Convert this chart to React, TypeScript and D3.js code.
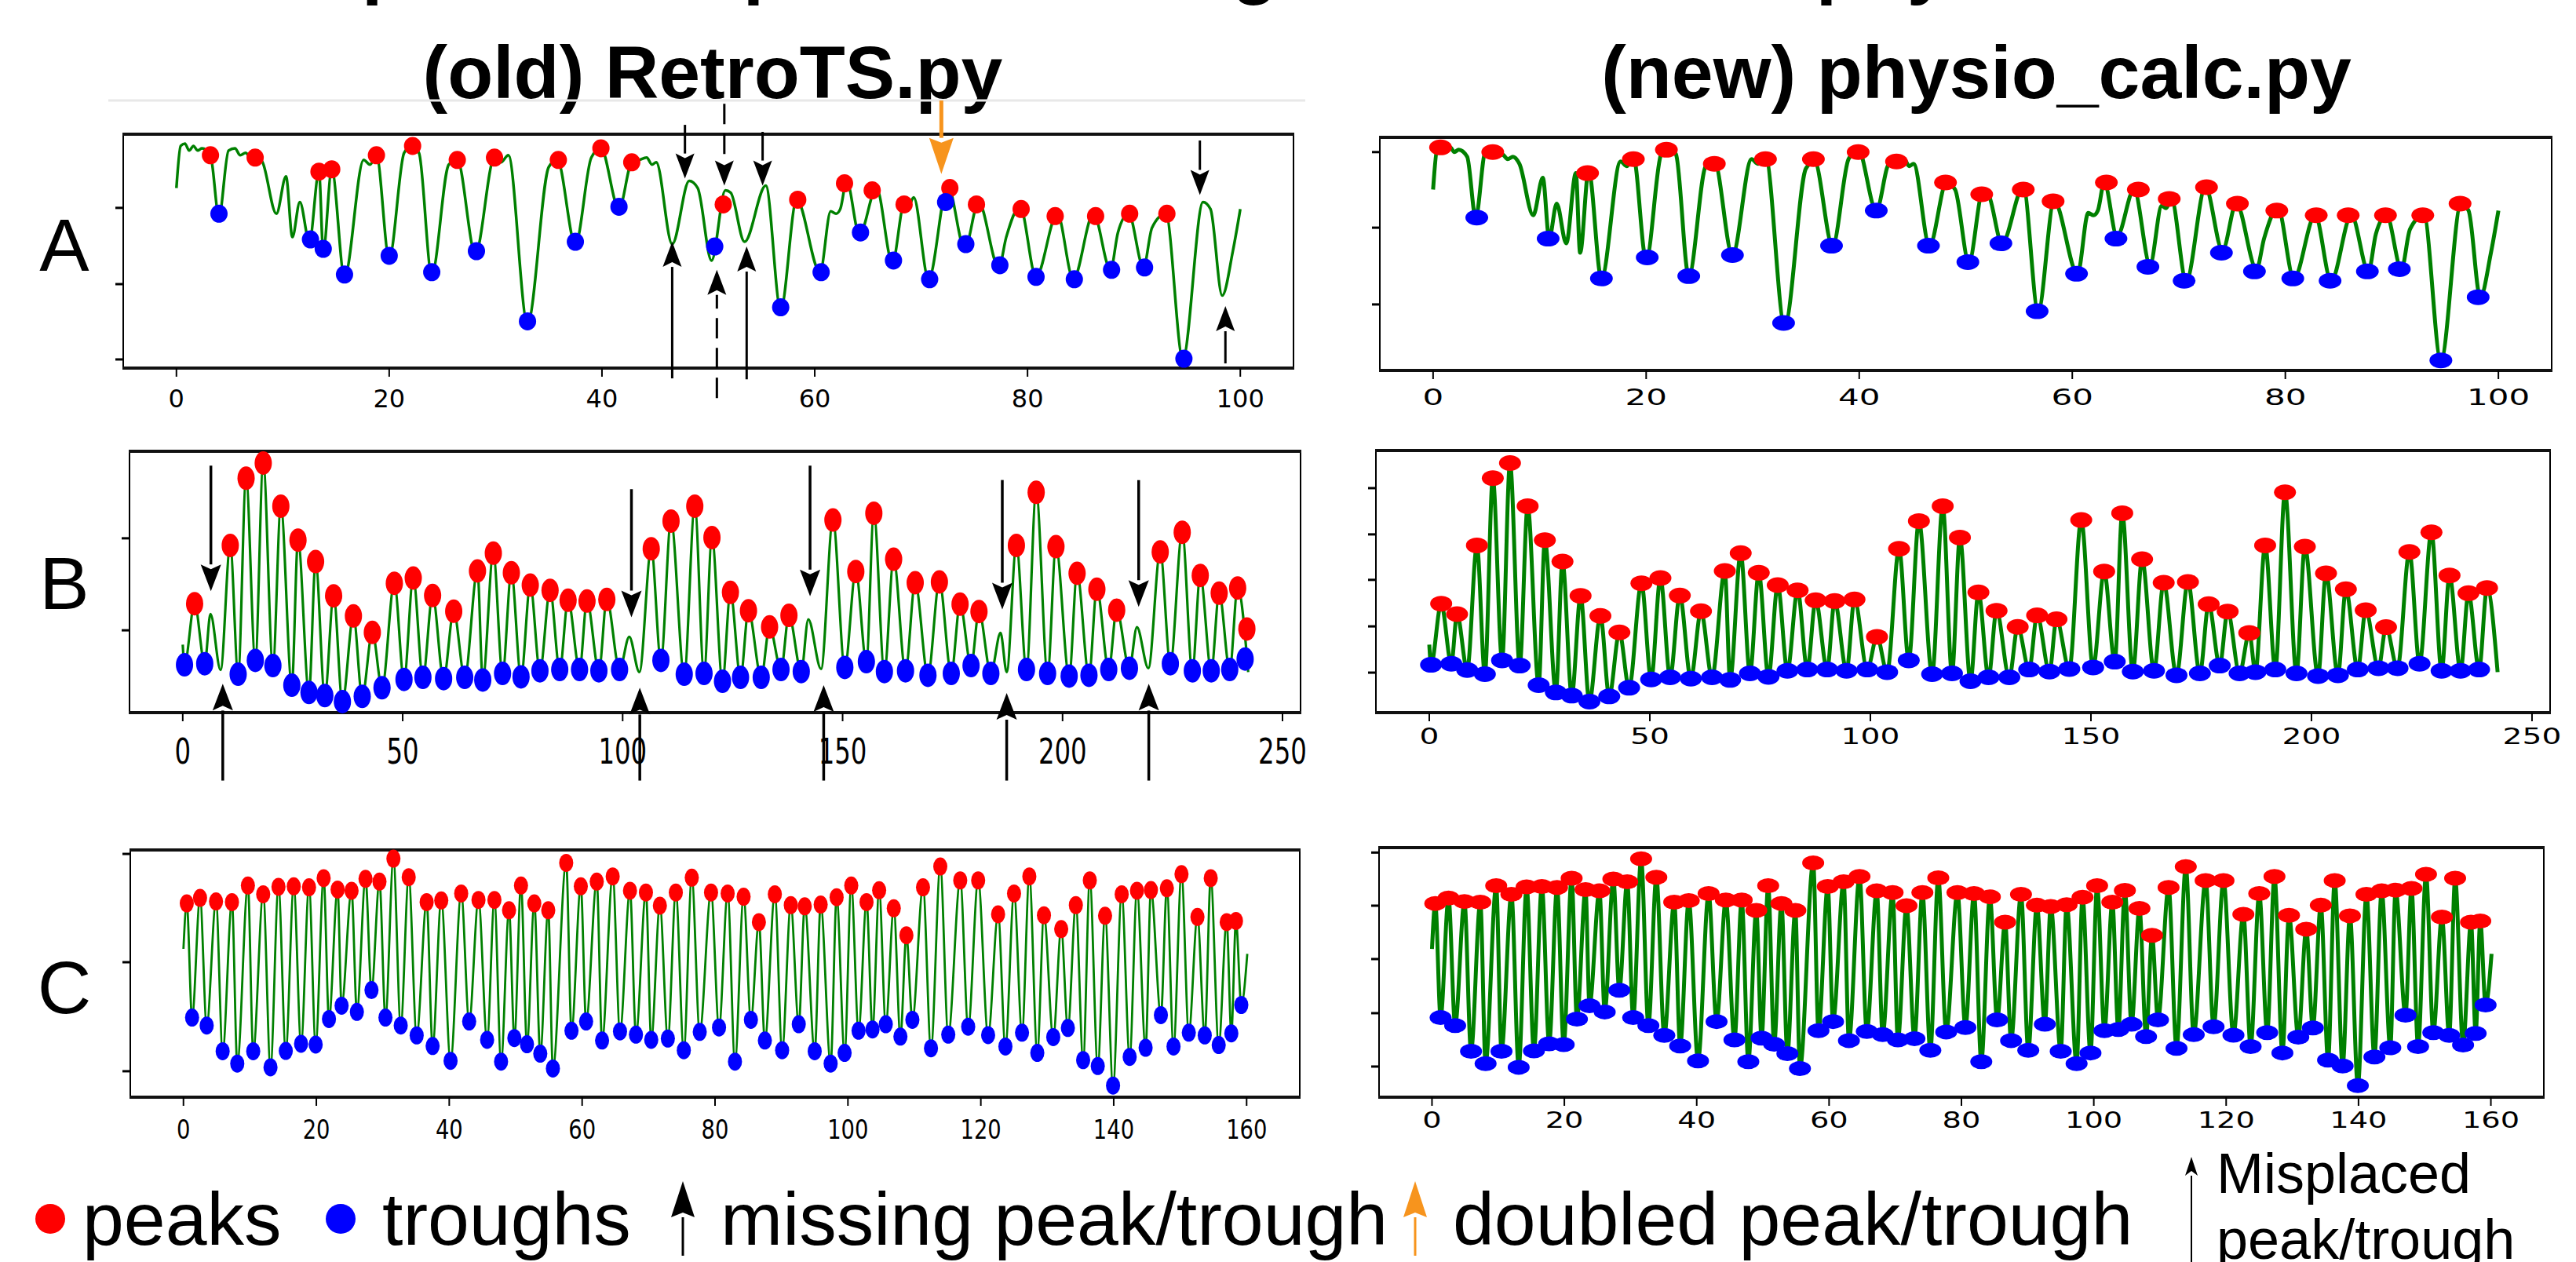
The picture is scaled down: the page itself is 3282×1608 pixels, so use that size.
import * as d3 from "d3";

// ---------- row A (old vs new, 0..100 s) ----------
const signalA: [number, number][] = [
  [0, 77], [0.4, 95], [0.8, 96], [1.2, 93], [1.6, 95], [2.0, 93], [2.4, 94], [3.2, 91], [4.0, 65],
  [4.9, 93], [5.5, 94], [6.0, 91], [6.5, 92], [7.0, 90], [7.5, 91], [8.1, 88], [9.4, 66], [10.3, 82],
  [10.9, 56], [11.6, 71], [12.5, 54], [13.4, 84], [13.8, 50], [14.6, 85], [15.8, 39], [17.6, 89],
  [18.2, 87], [18.8, 91], [20.0, 47], [21.4, 92], [22.1, 95], [22.8, 92], [24.0, 40], [25.6, 87],
  [26.4, 89], [28.1, 49], [29.9, 90], [30.5, 88], [31.2, 91], [33.0, 19], [35.0, 86], [35.8, 89],
  [37.5, 53], [39.0, 90], [39.9, 94], [41.6, 68], [42.8, 88], [43.5, 89], [44.2, 90], [44.7, 87],
  [45.1, 88], [46.6, 53], [48.2, 80], [49.0, 77], [50.3, 46], [51.6, 76], [52.1, 75], [53.4, 54],
  [55.4, 78], [56.8, 25], [58.3, 72], [60.5, 41], [61.5, 67], [62.0, 66], [62.4, 68], [63.0, 80],
  [64.2, 57], [65.8, 77], [67.3, 45], [68.4, 70], [68.8, 69], [69.3, 73], [70.7, 38], [72.5, 78],
  [74.1, 51], [75.4, 71], [77.3, 43], [78.0, 56], [79.3, 69], [80.8, 39], [82.8, 66], [84.3, 38],
  [86.2, 66], [87.8, 42], [88.5, 58], [89.5, 66], [90.9, 43], [91.7, 60], [93.0, 66], [94.6, 4],
  [96.5, 71], [97.2, 68], [98.3, 31], [99.3, 50], [100, 68],
];
const peaksOldA: [number, number][] = [
  [3.2, 91], [7.4, 90], [13.4, 84], [14.6, 85], [18.8, 91], [22.2, 95], [26.4, 89], [29.9, 90],
  [35.9, 89], [39.9, 94], [42.8, 88], [51.4, 70], [58.4, 72], [62.8, 79], [65.4, 76], [68.4, 70],
  [72.7, 77], [75.2, 70], [79.4, 68], [82.6, 65], [86.4, 65], [89.6, 66], [93.1, 66],
];
const troughsOldA: [number, number][] = [
  [4.0, 66], [12.6, 55], [13.8, 51], [15.8, 40], [20.0, 48], [24.0, 41], [28.2, 50], [33.0, 20],
  [37.5, 54], [41.6, 69], [50.6, 52], [56.8, 26], [60.6, 41], [64.3, 58], [67.4, 46], [70.8, 38],
  [72.3, 71], [74.2, 53], [77.4, 44], [80.8, 39], [84.4, 38], [87.9, 42], [91.0, 43], [94.7, 4],
];
const peaksNewA: [number, number][] = [
  [0.7, 95], [5.6, 93], [14.5, 84], [18.8, 90], [21.9, 94], [26.4, 88], [31.2, 90], [35.7, 90],
  [39.9, 93], [43.5, 89], [48.1, 80], [51.5, 75], [55.4, 77], [58.2, 72], [63.2, 80], [66.2, 77],
  [69.1, 73], [72.6, 78], [75.5, 71], [79.2, 68], [82.9, 66], [85.9, 66], [89.4, 66], [92.9, 66],
  [96.4, 71],
];
const troughsNewA: [number, number][] = [
  [4.1, 65], [10.8, 56], [15.8, 39], [20.1, 48], [24.0, 40], [28.1, 49], [32.9, 20], [37.4, 53],
  [41.6, 68], [46.5, 53], [50.2, 46], [53.3, 54], [56.7, 25], [60.4, 41], [64.1, 56], [67.1, 44],
  [70.5, 38], [74.0, 50], [77.1, 42], [80.7, 39], [84.2, 38], [87.7, 42], [90.7, 43], [94.6, 4],
  [98.1, 31],
];
// annotation arrows: [t, tip value, tail value]
const missArrowsOldA: [number, number, number][] = [
  [47.8, 81, 104], [55.1, 78, 101], [96.2, 74, 97.3],
  [46.6, 54, -4.4], [53.6, 52, -4.8], [98.6, 26.5, 2],
];
const misplacedArrowsOldA: [number, number, number][] = [[51.5, 78, 113], [50.8, 42, -12.8]];
const doubledArrowsOldA: [number, number, number][] = [[71.9, 83, 114.4]];

// ---------- row B (0..242 s) ----------
const peaksB: [number, number][] = [
  [2.7, 41.7], [6.3, 37.7], [10.8, 64], [14.4, 89.7], [18.3, 95.5], [22.3, 79], [26.2, 66],
  [30.2, 57.8], [34.3, 44.7], [38.8, 37], [43.1, 30.7], [48.1, 49.5], [52.4, 51.5], [56.8, 44.8],
  [61.6, 38.8], [67, 54.2], [70.6, 61], [74.7, 53.5], [79, 48.8], [83.5, 46.8], [87.6, 43],
  [91.9, 42.7], [96.4, 43.3], [101.5, 29], [106.5, 62.7], [111, 73.3], [116.4, 79], [120.3, 67],
  [124.5, 46], [128.6, 39], [133.4, 32.8], [137.8, 37.2], [142.2, 35.7], [147.8, 73.7], [153, 54],
  [157.1, 76.3], [161.6, 58.7], [166.5, 49.7], [172, 50], [176.7, 41.5], [181, 38.7], [185.9, 30.5],
  [189.5, 64], [194, 84.3], [198.5, 63.5], [203.3, 53.3], [207.8, 47.2], [212.3, 39.2],
  [216.9, 32.7], [222.2, 61.5], [227.2, 69], [231.3, 52.5], [235.6, 45.7], [239.8, 47.7],
];
const troughsB: [number, number][] = [
  [0.4, 18.3], [5, 18.7], [8.6, 16.3], [12.6, 14.7], [16.5, 20], [20.5, 18], [24.8, 10.5],
  [28.7, 7.7], [32.3, 6.5], [36.3, 4.2], [40.8, 6.2], [45.3, 9.5], [50.3, 12.7], [54.6, 13.5],
  [59.3, 13], [64.1, 13.5], [68.2, 12.5], [72.7, 15], [76.9, 13.7], [81.2, 16], [85.7, 16.5],
  [90.2, 16.5], [94.6, 16], [99.3, 16.5], [103.8, 15.5], [108.7, 20], [114, 14.7], [118.5, 15],
  [122.7, 12], [126.8, 13.5], [131.5, 13.5], [136, 16.5], [140.6, 15.7], [145.1, 16.7],
  [150.5, 17.3], [155.4, 19.5], [159.5, 15.7], [164.3, 16], [169.4, 14.3], [174.7, 15], [179.2, 18],
  [183.7, 15], [187.3, 15.5], [191.8, 16.5], [196.6, 15], [201.5, 14], [206, 14.3], [210.5, 16.5],
  [215.2, 17], [219.5, 17], [224.5, 18.7], [229.5, 16], [233.8, 16], [238, 16.5],
];
const signalEndsB: [number, number][] = [[0, 26], [242.2, 15.5]];
const missedOldB = [6.3, 101.5, 142.2, 185.9, 216.9, 8.6, 103.8, 145.1, 187.3, 219.5];
const extraPeaksOldB: [number, number][] = [[241.9, 32]];
const extraTroughsOldB: [number, number][] = [[241.5, 20.5]];
const missArrowsOldB: [number, number, number][] = [
  [6.4, 46.5, 94.5], [102, 36.5, 85.5], [142.6, 44.5, 94.5], [186.3, 39.5, 89], [217.3, 40.5, 89],
  [9.1, 11, -26], [103.9, 9.5, -26], [145.7, 10.5, -26], [187.3, 7.5, -26], [219.6, 11, -26],
];

// ---------- row C (0..160 s) ----------
const peaksC: [number, number][] = [
  [0.5, 78.4], [2.5, 80.6], [4.9, 79.2], [7.3, 78.9], [9.7, 85.6], [12, 82.1], [14.3, 85.1],
  [16.6, 85.3], [18.9, 84.9], [21.1, 88.6], [23.2, 84], [25.3, 83.5], [27.4, 88.3], [29.5, 87.2],
  [31.6, 96.5], [33.9, 89], [36.6, 78.9], [38.8, 79.6], [41.8, 82.4], [44.4, 79.8], [46.8, 79.8],
  [49, 75.6], [50.8, 85.6], [52.8, 78.4], [54.9, 75.6], [57.6, 94.8], [59.8, 85.3], [62.2, 87.2],
  [64.6, 89.3], [67.2, 83.5], [69.6, 82.8], [71.7, 77.5], [74.1, 82.8], [76.5, 88.8], [79.4, 82.8],
  [81.9, 82.4], [84.3, 81.1], [86.6, 70.8], [89, 82.1], [91.4, 77.7], [93.5, 77.2], [95.9, 77.9],
  [98.3, 80.9], [100.5, 85.6], [102.8, 78.9], [104.7, 83.7], [106.9, 76.4], [108.8, 65.5],
  [111.3, 84.9], [113.9, 93.3], [116.9, 87.7], [119.6, 87.7], [122.6, 74], [125, 82.4],
  [127.3, 89.3], [129.5, 73.6], [132.1, 68], [134.3, 77.7], [136.4, 87.7], [138.7, 73.4],
  [141.2, 82.1], [143.5, 83.5], [145.6, 83.8], [148, 84.5], [150.2, 90.2], [152.6, 72.9],
  [154.6, 88.6], [157, 70.8], [158.4, 71.3],
];
const troughsC: [number, number][] = [
  [1.3, 32.2], [3.5, 29], [5.9, 18.6], [8.1, 13.6], [10.5, 18.6], [13.1, 12.1], [15.4, 18.7],
  [17.7, 21.6], [19.9, 21.3], [21.9, 31.6], [23.8, 37], [26.1, 34.5], [28.3, 43.3], [30.4, 32.2],
  [32.7, 29], [35.1, 25], [37.5, 20.7], [40.2, 14.7], [43, 30.6], [45.7, 23.2], [47.8, 14.4],
  [49.8, 23.9], [51.7, 21.4], [53.7, 17.6], [55.6, 11.6], [58.4, 26.9], [60.6, 30.6], [63, 22.9],
  [65.7, 26.6], [68.1, 25.3], [70.4, 23.2], [72.9, 23.7], [75.3, 19], [77.7, 26.4], [80.6, 28.2],
  [83, 14.4], [85.4, 31.3], [87.5, 22.9], [90.1, 19], [92.6, 29.5], [95, 18.6], [97.4, 13.6],
  [99.5, 17.9], [101.6, 26.9], [103.7, 27.4], [105.7, 29.5], [107.9, 24.5], [109.7, 31.3],
  [112.5, 19.8], [115.1, 25.3], [118.1, 28.5], [121.1, 25.1], [123.7, 20.5], [126.2, 26.1],
  [128.5, 17.9], [130.9, 24.3], [133.1, 28], [135.4, 15], [137.6, 12.6], [139.9, 4.7],
  [142.4, 16.3], [144.8, 20], [147.1, 33.2], [149, 20.5], [151.3, 26.1], [153.7, 25], [155.8, 21.1],
  [157.7, 25.8], [159.2, 37.3],
];
const signalEndsC: [number, number][] = [[0, 60], [160.1, 58]];

// ---------- ticks ----------
const xTicksA = [0, 20, 40, 60, 80, 100];
const xTicksB = [0, 50, 100, 150, 200, 250];
const xTicksC = [0, 20, 40, 60, 80, 100, 120, 140, 160];
const yTicksOldA = [3.7, 35.9, 68.5];
const yTicksNewA = [27.9, 60.7, 93.0];
const yTicksOldB = [31.5, 66.7];
const yTicksNewB = [15.3, 33.0, 50.8, 68.2, 85.9];
const yTicksOldC = [10.5, 54.6, 98.4];
const yTicksNewC = [12.4, 34.0, 55.9, 77.5, 99.0];

const byT = (a: [number, number], b: [number, number]) => a[0] - b[0];
const signalB = [...signalEndsB, ...peaksB, ...troughsB].sort(byT);
const signalC = [...signalEndsC, ...peaksC, ...troughsC].sort(byT);
const notMissed = (p: [number, number]) => !missedOldB.includes(p[0]);

type Arrow = { list: [number, number, number][]; color: string; w: number; hw: number; hl: number; dash?: string };

type PanelCfg = {
  box: [number, number, number, number]; // left, right, top, bottom
  xDomain: [number, number];
  yDomain: [number, number];
  xTicks: number[];
  yTicks: number[];
  signal: [number, number][];
  peaks: [number, number][];
  troughs: [number, number][];
  rx: number;
  ry: number;
  lw: number;
  font: number;
  sx: number;
  base: number;
  arrows?: Arrow[];
};

const BLACK_A = { color: "#000", w: 3, hw: 24, hl: 32 };
const ORANGE = "#f7941d";

const panels: PanelCfg[] = [
  {
    box: [157, 1648, 171, 469], xDomain: [-5, 105], yDomain: [0, 100], xTicks: xTicksA, yTicks: yTicksOldA,
    signal: signalA, peaks: peaksOldA, troughs: troughsOldA, rx: 11, ry: 11.5, lw: 3.5,
    font: 32, sx: 1, base: 519,
    arrows: [
      { list: missArrowsOldA, ...BLACK_A },
      { list: misplacedArrowsOldA, ...BLACK_A, dash: "26 12" },
      { list: doubledArrowsOldA, color: ORANGE, w: 5, hw: 31, hl: 46 },
    ],
  },
  {
    box: [1758, 3251, 175, 472], xDomain: [-5, 105], yDomain: [-0.3, 99.3], xTicks: xTicksA, yTicks: yTicksNewA,
    signal: signalA, peaks: peaksNewA, troughs: troughsNewA, rx: 14.5, ry: 10, lw: 5,
    font: 29, sx: 1.45, base: 516,
  },
  {
    box: [165, 1657, 575, 908], xDomain: [-12.1, 254.1], yDomain: [0, 100], xTicks: xTicksB, yTicks: yTicksOldB,
    signal: signalB, peaks: [...peaksB.filter(notMissed), ...extraPeaksOldB],
    troughs: [...troughsB.filter(notMissed), ...extraTroughsOldB], rx: 11, ry: 15, lw: 3.2,
    font: 45, sx: 0.72, base: 973,
    arrows: [{ list: missArrowsOldB, color: "#000", w: 3.5, hw: 26, hl: 34 }],
  },
  {
    box: [1753, 3249, 574, 908], xDomain: [-12.1, 254.1], yDomain: [0, 100.3], xTicks: xTicksB, yTicks: yTicksNewB,
    signal: signalB, peaks: peaksB, troughs: troughsB, rx: 14, ry: 10, lw: 5,
    font: 28, sx: 1.4, base: 948,
  },
  {
    box: [166, 1656, 1083, 1398], xDomain: [-8, 168], yDomain: [0, 100], xTicks: xTicksC, yTicks: yTicksOldC,
    signal: signalC, peaks: peaksC, troughs: troughsC, rx: 9, ry: 11.5, lw: 2.8,
    font: 33, sx: 0.83, base: 1451,
  },
  {
    box: [1757, 3241, 1080, 1398], xDomain: [-8, 168], yDomain: [0, 101], xTicks: xTicksC, yTicks: yTicksNewC,
    signal: signalC, peaks: peaksC, troughs: troughsC, rx: 14, ry: 9.5, lw: 5,
    font: 28, sx: 1.37, base: 1437,
  },
];

const SANS = "'Liberation Sans', Arial, sans-serif";
const TICKFONT = "'DejaVu Sans', sans-serif";

function ArrowMark({ x, yTip, yTail, color, w, hw, hl, dash }: any) {
  const dir = yTail > yTip ? 1 : -1;
  const base = yTip + dir * hl;
  return (
    <g>
      <line x1={x} y1={yTail} x2={x} y2={base} stroke={color} strokeWidth={w} strokeDasharray={dash} />
      <path d={`M${x},${yTip} L${x - hw / 2},${base} L${x},${base - dir * 6} L${x + hw / 2},${base} Z`} fill={color} />
    </g>
  );
}

function Panel({ cfg }: { cfg: PanelCfg }) {
  const [left, right, top, bottom] = cfg.box;
  const x = d3.scaleLinear().domain(cfg.xDomain).range([left, right]);
  const y = d3.scaleLinear().domain(cfg.yDomain).range([bottom, top]);
  const line = d3
    .line<[number, number]>()
    .x((d) => x(d[0]))
    .y((d) => y(d[1]))
    .curve(d3.curveMonotoneX);

  return (
    <g>
      <rect x={left} y={top} width={right - left} height={bottom - top} fill="#fff" stroke="#000" strokeWidth={2} />
      <line x1={left - 1} x2={right + 1} y1={top} y2={top} stroke="#111" strokeWidth={4} />
      <line x1={left - 1} x2={right + 1} y1={bottom} y2={bottom} stroke="#111" strokeWidth={4} />
      {cfg.yTicks.map((v) => (
        <line key={"y" + v} x1={left - 10} x2={left} y1={y(v)} y2={y(v)} stroke="#000" strokeWidth={3} />
      ))}
      {cfg.xTicks.map((t) => (
        <g key={"x" + t}>
          <line x1={x(t)} x2={x(t)} y1={bottom} y2={bottom + 11} stroke="#000" strokeWidth={2} />
          <text
            transform={`translate(${x(t)},${cfg.base}) scale(${cfg.sx},1)`}
            textAnchor="middle"
            fontFamily={TICKFONT}
            fontSize={cfg.font}
            fill="#000"
          >
            {t}
          </text>
        </g>
      ))}
      <path d={line(cfg.signal) || ""} fill="none" stroke="#008000" strokeWidth={cfg.lw} strokeLinejoin="round" />
      {cfg.peaks.map((p, i) => (
        <ellipse key={"p" + i} cx={x(p[0])} cy={y(p[1])} rx={cfg.rx} ry={cfg.ry} fill="#ff0000" />
      ))}
      {cfg.troughs.map((p, i) => (
        <ellipse key={"t" + i} cx={x(p[0])} cy={y(p[1])} rx={cfg.rx} ry={cfg.ry} fill="#0000ff" />
      ))}
      {(cfg.arrows || []).map((a, j) =>
        a.list.map((d, i) => (
          <ArrowMark key={`a${j}-${i}`} x={x(d[0])} yTip={y(d[1])} yTail={y(d[2])} color={a.color} w={a.w} hw={a.hw} hl={a.hl} dash={a.dash} />
        ))
      )}
    </g>
  );
}

export default function App() {
  return (
    <svg
      width={3282}
      height={1608}
      style={{ position: "absolute", left: 0, top: 0, background: "#fff" }}
    >
      <rect width={3282} height={1608} fill="#fff" />
      <text x={250} y={-13} fontFamily={SANS} fontWeight="bold" fontSize={95}>
        Comparison of peak and trough detection for physio data
      </text>
      <text x={908} y={125} textAnchor="middle" fontFamily={SANS} fontWeight="bold" fontSize={95}>
        (old) RetroTS.py
      </text>
      <text x={2518} y={125} textAnchor="middle" fontFamily={SANS} fontWeight="bold" fontSize={95}>
        (new) physio_calc.py
      </text>
      <line x1={138} x2={1663} y1={128} y2={128} stroke="#e8e8e8" strokeWidth={3} />

      {["A", "B", "C"].map((l, i) => (
        <text key={l} x={82} y={[345, 776, 1291][i]} textAnchor="middle" fontFamily={SANS} fontSize={95}>
          {l}
        </text>
      ))}

      {panels.map((p, i) => (
        <Panel key={i} cfg={p} />
      ))}

      {/* legend */}
      <circle cx={64} cy={1553} r={19} fill="#ff0000" />
      <text x={105} y={1586} fontFamily={SANS} fontSize={95}>peaks</text>
      <circle cx={434} cy={1553} r={19} fill="#0000ff" />
      <text x={487} y={1586} fontFamily={SANS} fontSize={95}>troughs</text>
      <ArrowMark x={870} yTip={1505} yTail={1600} color="#000" w={3} hw={30} hl={46} />
      <text x={918} y={1586} fontFamily={SANS} fontSize={95}>missing peak/trough</text>
      <ArrowMark x={1803} yTip={1505} yTail={1600} color={ORANGE} w={3} hw={30} hl={46} />
      <text x={1851} y={1586} fontFamily={SANS} fontSize={95}>doubled peak/trough</text>
      <ArrowMark x={2792} yTip={1474} yTail={1608} color="#000" w={2} hw={16} hl={24} />
      <text x={2824} y={1520} fontFamily={SANS} fontSize={72}>Misplaced</text>
      <text x={2824} y={1604} fontFamily={SANS} fontSize={72}>peak/trough</text>
    </svg>
  );
}
